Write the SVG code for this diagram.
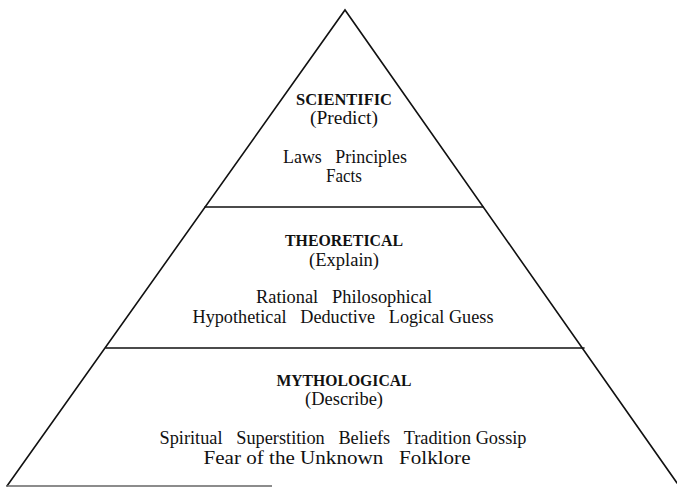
<svg xmlns="http://www.w3.org/2000/svg" width="677" height="487" viewBox="0 0 677 487">
<style>
.edge{stroke:#111;stroke-width:1.6;fill:none;stroke-linecap:round}
.base{stroke:#666;stroke-width:1.6;fill:none}
</style>
<rect width="677" height="487" fill="#fff"/>
<g id="connectors">
<path class="edge" d="M7,486 L345,10 L677,483"/>
<line class="edge" x1="205" y1="207" x2="483" y2="207"/>
<line class="edge" x1="106" y1="348" x2="584" y2="348"/>
<line class="base" x1="7" y1="486" x2="272" y2="486"/>
</g>
<g font-family="Liberation Serif, Times New Roman, serif" font-size="18" fill="#111" text-anchor="middle">
<g id="scientific">
<text font-weight="bold" font-size="16" x="344" y="105" textLength="96" lengthAdjust="spacingAndGlyphs">SCIENTIFIC</text>
<text x="344" y="124" textLength="68" lengthAdjust="spacingAndGlyphs">(Predict)</text>
<text x="345" y="163" xml:space="preserve" textLength="124" lengthAdjust="spacingAndGlyphs">Laws   Principles</text>
<text x="344" y="182" textLength="36" lengthAdjust="spacingAndGlyphs">Facts</text>
</g>
<g id="theoretical">
<text font-weight="bold" font-size="16" x="344" y="246" textLength="118" lengthAdjust="spacingAndGlyphs">THEORETICAL</text>
<text x="344" y="266" textLength="70" lengthAdjust="spacingAndGlyphs">(Explain)</text>
<text x="344" y="303" xml:space="preserve" textLength="176" lengthAdjust="spacingAndGlyphs">Rational   Philosophical</text>
<text x="343" y="323" xml:space="preserve" textLength="301" lengthAdjust="spacingAndGlyphs">Hypothetical   Deductive   Logical Guess</text>
</g>
<g id="mythological">
<text font-weight="bold" font-size="16" x="344" y="386" textLength="135" lengthAdjust="spacingAndGlyphs">MYTHOLOGICAL</text>
<text x="344" y="405" textLength="78" lengthAdjust="spacingAndGlyphs">(Describe)</text>
<text x="343" y="444" xml:space="preserve" textLength="367" lengthAdjust="spacingAndGlyphs">Spiritual   Superstition   Beliefs   Tradition Gossip</text>
<text x="337" y="464" xml:space="preserve" textLength="267" lengthAdjust="spacingAndGlyphs">Fear of the Unknown   Folklore</text>
</g>
</g>
</svg>
